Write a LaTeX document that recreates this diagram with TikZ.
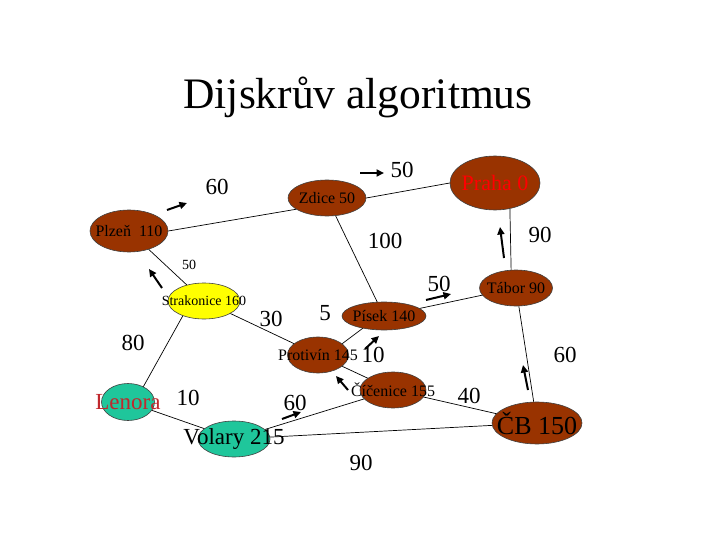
\documentclass[tikz,border=0pt]{standalone}
\usepackage{fontspec}
\setmainfont{Liberation Serif}
\usetikzlibrary{shapes.geometric, arrows.meta}
\definecolor{brick}{HTML}{993300}
\definecolor{sea}{HTML}{1FC69B}
\definecolor{sun}{HTML}{FFFF00}
\definecolor{wine}{HTML}{C0282D}
\newcommand{\fsz}[1]{\fontsize{#1}{#1}\selectfont}
\newcommand{\ctext}[1]{\makebox[0pt]{#1}}

\begin{document}
\begin{tikzpicture}[x=1pt, y=-1pt,
  city/.style={ellipse, draw=black!75, line width=0.6pt, fill=brick,
               inner sep=0pt, font=\fsz{16}},
  weight/.style={font=\fsz{23}, inner sep=0pt},
  road/.style={line width=0.7pt},
  hop/.style={line width=2pt, -{Triangle[length=7.5pt,width=7pt]}},
]
\useasboundingbox (0,0) rectangle (720,540);

\node[font=\fsz{43.5}, anchor=base] (title) at (358,109) {Dijskrův algoritmus};

% cities
\node[city, minimum width=90pt, minimum height=54pt, font=\fsz{22}, text=red]
  (praha) at (495,183) {\ctext{Praha 0}};
\node[city, minimum width=78pt, minimum height=36pt] (zdice) at (327,198) {\ctext{Zdice 50}};
\node[city, minimum width=78pt, minimum height=42pt] (plzen) at (129,231) {\ctext{Plzeň\ \ 110}};
\node[city, fill=sun, minimum width=72pt, minimum height=36pt, font=\fsz{14}]
  (strak) at (204,301) {\ctext{Strakonice 160}};
\node[city, minimum width=73pt, minimum height=36pt] (tabor) at (516,288) {\ctext{Tábor 90}};
\node[city, minimum width=84pt, minimum height=28pt] (pisek) at (384,316) {\ctext{Písek 140}};
\node[city, minimum width=61pt, minimum height=36pt] (protivin) at (318,355) {\ctext{Protivín 145}};
\node[city, minimum width=66pt, minimum height=36pt] (cicenice) at (393,390) {\ctext{Číčenice 155}};
\node[city, minimum width=90pt, minimum height=42pt, font=\fsz{26}] (cb) at (537,423) {\ctext{ČB 150}};
\node[city, fill=sea, minimum width=72pt, minimum height=36pt, font=\fsz{23}]
  (volary) at (234,439) {\ctext{Volary 215}};
\node[city, fill=sea, minimum width=53pt, minimum height=37pt, font=\fsz{23}, text=wine]
  (lenora) at (128,402) {\ctext{Lenora}};

% roads
\draw[road] (plzen.east) -- (zdice.200);
\draw[road] (zdice.east) -- (praha.west);
\draw[road] (zdice) -- (pisek);
\draw[road] (praha.-60) -- (tabor.105);
\draw[road] (plzen) -- (strak);
\draw[road] (strak) -- (protivin);
\draw[road] (strak.215) -- (lenora.45);
\draw[road] (lenora) -- (volary);
\draw[road] (protivin.25) -- (pisek.210);
\draw[road] (protivin) -- (cicenice);
\draw[road] (pisek) -- (tabor);
\draw[road] (tabor) -- (cb);
\draw[road] (cicenice) -- (cb);
\draw[road] (cicenice) -- (volary);
\draw[road] (volary) -- (cb);

% weights
\node[weight] (w60a) at (217,187) {60};
\node[weight] (w50a) at (402,170) {50};
\node[weight] (w100) at (385,241) {100};
\node[weight] (w90a) at (540,235) {90};
\node[weight, font=\fsz{14}] (w50b) at (189,265) {50};
\node[weight] (w50c) at (439,284) {50};
\node[weight] (w30) at (271,319) {30};
\node[weight] (w5) at (325,313) {5};
\node[weight] (w80) at (133,343) {80};
\node[weight] (w10a) at (373,355) {10};
\node[weight] (w60b) at (565,355) {60};
\node[weight] (w40) at (469,396) {40};
\node[weight] (w60c) at (295,403) {60};
\node[weight] (w90b) at (361,463) {90};
\node[weight] (w10b) at (188,398) {10};

% steps of the algorithm
\coordinate (h1a) at (167,210); \coordinate (h1b) at (187,203);
\coordinate (h2a) at (360,173); \coordinate (h2b) at (384,173);
\coordinate (h3a) at (504,258); \coordinate (h3b) at (500,227);
\coordinate (h4a) at (426,300); \coordinate (h4b) at (451,294);
\coordinate (h5a) at (162,288); \coordinate (h5b) at (149,269);
\coordinate (h6a) at (365,349); \coordinate (h6b) at (379,336);
\coordinate (h7a) at (348,390); \coordinate (h7b) at (336,376);
\coordinate (h8a) at (528,390); \coordinate (h8b) at (523,365);
\coordinate (h9a) at (282,419); \coordinate (h9b) at (301,412);
\draw[hop] (h1a) -- (h1b);
\draw[hop] (h2a) -- (h2b);
\draw[hop] (h3a) -- (h3b);
\draw[hop] (h4a) -- (h4b);
\draw[hop] (h5a) -- (h5b);
\draw[hop] (h6a) -- (h6b);
\draw[hop] (h7a) -- (h7b);
\draw[hop] (h8a) -- (h8b);
\draw[hop] (h9a) -- (h9b);
\end{tikzpicture}
\end{document}
